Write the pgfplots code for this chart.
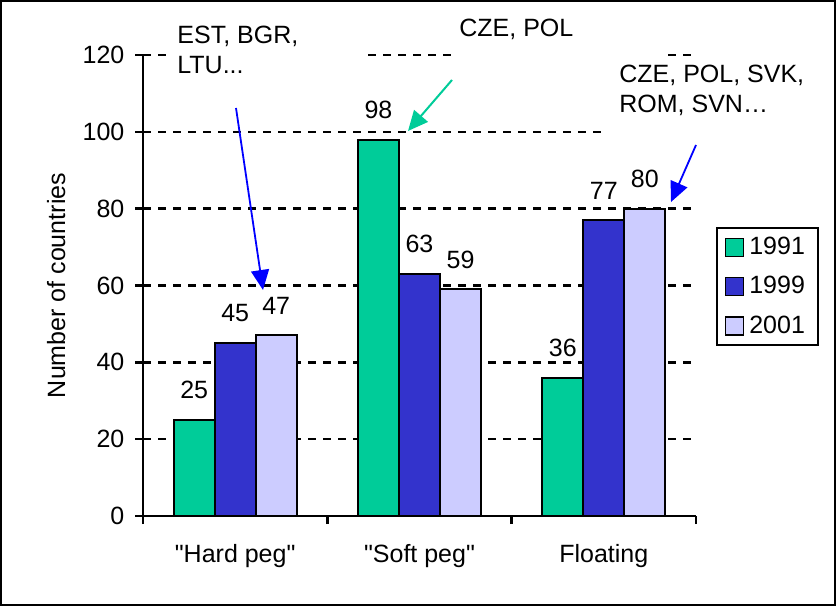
\documentclass[border=0pt]{standalone}
\usepackage{fontspec}
\setmainfont{Liberation Sans}
\usepackage{pgfplots}
\pgfplotsset{compat=1.18}
\usetikzlibrary{arrows.meta}
\definecolor{c91}{HTML}{00CC99}
\definecolor{c99}{HTML}{3333CC}
\definecolor{c01}{HTML}{CCCCFF}
\newcommand{\fnt}{\fontsize{12.5}{15}\selectfont}
\pgfplotsset{mylegend/.style={legend image code/.code={\draw[##1,draw=black,line width=0.6pt] (0pt,-4.5pt) rectangle (9pt,4.5pt);}}}
\begin{document}
\begin{tikzpicture}[font=\fnt]
\useasboundingbox (0,0) rectangle (418pt,303pt);
\begin{axis}[
  at={(71.5pt,45pt)}, anchor=south west,
  scale only axis, width=276.5pt, height=230.5pt,
  ybar=0pt, bar width=0.2225,
  xmin=-0.5, xmax=2.5, ymin=0, ymax=120,
  axis x line=bottom, axis y line=left,
  axis line style={line width=1.2pt, -},
  tick align=outside, major tick length=4pt,
  tick style={line width=1.2pt, black},
  ytick={0,20,...,120},
  ymajorgrids, grid style={black, line width=1.2pt, dash pattern=on 4pt off 3.5pt},
  xtick={-0.5,0.5,1.5,2.5}, xticklabels={\empty,\empty,\empty,\empty},
  extra x ticks={0,1,2},
  extra x tick labels={{\textquotedbl Hard peg\textquotedbl},{\textquotedbl Soft peg\textquotedbl},Floating},
  extra x tick style={major tick length=0pt, xticklabel style={anchor=base, yshift=-23pt}},
  tick label style={font=\fnt},
  yticklabel style={xshift=-1.8pt},
  /pgf/number format/assume math mode=true,
  ylabel={Number of countries},
  ylabel style={font=\fnt, at={(axis description cs:-0.157,0.5)}, anchor=center},
  nodes near coords,
  nodes near coords style={font=\fnt, inner sep=0pt, yshift=10pt, black},
  legend style={at={(rel axis cs:1.036,0.627)}, anchor=north west, draw=black, line width=1pt,
    font=\fnt, inner xsep=4pt, inner ysep=2.5pt, row sep=5.5pt, cells={anchor=west},
    nodes={inner xsep=2.6pt}},
]
\addplot[fill=c91, draw=black, line width=1pt, mylegend] coordinates {(0,25) (1,98) (2,36)};
\addplot[fill=c99, draw=black, line width=1pt, mylegend] coordinates {(0,45) (1,63) (2,77)};
\addplot[fill=c01, draw=black, line width=1pt, mylegend] coordinates {(0,47) (1,59) (2,80)};
\legend{1991,1999,2001}
\end{axis}
% annotation boxes
\fill[white] (83.5pt,251pt) rectangle (181pt,299pt);
\node[anchor=base west, inner sep=0pt] at (88.5pt,281pt) {EST, BGR,};
\node[anchor=base west, inner sep=0pt] at (88.5pt,266pt) {LTU...};
\fill[white] (226.5pt,272pt) rectangle (331.5pt,300pt);
\node[anchor=base west, inner sep=0pt] at (229.5pt,284.5pt) {CZE, POL};
\fill[white] (304pt,233pt) rectangle (400pt,272pt);
\node[anchor=base west, inner sep=0pt] at (309.5pt,261.5pt) {CZE, POL, SVK,};
\node[anchor=base west, inner sep=0pt] at (309.5pt,246.5pt) {ROM, SVN…};
% arrows
\draw[blue, line width=0.9pt, -{Triangle[length=10pt,width=9pt]}] (118pt,249pt) -- (131.5pt,158pt);
\draw[c91, line width=1pt, -{Triangle[length=10pt,width=9pt]}] (226pt,263pt) -- (204pt,237.5pt);
\draw[blue, line width=0.9pt, -{Triangle[length=10pt,width=9pt]}] (348pt,230.5pt) -- (335.5pt,202pt);
% frame
\draw[line width=1pt] (0.5pt,0.5pt) rectangle (417.5pt,302.5pt);
\end{tikzpicture}
\end{document}
